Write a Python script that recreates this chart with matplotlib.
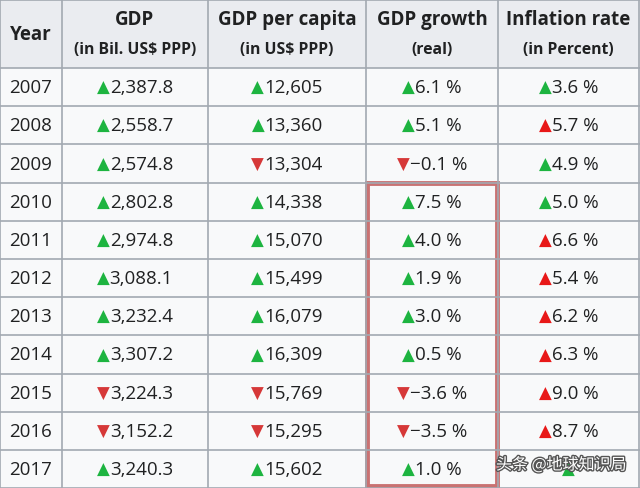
import matplotlib.pyplot as plt
from matplotlib.patches import Rectangle
from matplotlib.offsetbox import TextArea, HPacker, AnnotationBbox
import matplotlib.patheffects as pe

plt.rcParams['font.family'] = ['Open Sans', 'DejaVu Sans']

# 数据
years = ['2007', '2008', '2009', '2010', '2011', '2012', '2013', '2014', '2015', '2016', '2017']
gdp = ['2,387.8', '2,558.7', '2,574.8', '2,802.8', '2,974.8', '3,088.1', '3,232.4',
       '3,307.2', '3,224.3', '3,152.2', '3,240.3']
gdp_up = [1, 1, 1, 1, 1, 1, 1, 1, 0, 0, 1]
gdp_pc = ['12,605', '13,360', '13,304', '14,338', '15,070', '15,499', '16,079',
          '16,309', '15,769', '15,295', '15,602']
gdp_pc_up = [1, 1, 0, 1, 1, 1, 1, 1, 0, 0, 1]
growth = ['6.1 %', '5.1 %', '−0.1 %', '7.5 %', '4.0 %', '1.9 %', '3.0 %',
          '0.5 %', '−3.6 %', '−3.5 %', '1.0 %']
growth_up = [1, 1, 0, 1, 1, 1, 1, 1, 0, 0, 1]
inflation = ['3.6 %', '5.7 %', '4.9 %', '5.0 %', '6.6 %', '5.4 %', '6.2 %',
             '6.3 %', '9.0 %', '8.7 %', '']
# 1 = 绿色上升, 2 = 红色上升 (通胀变高)
inflation_mark = [1, 2, 1, 1, 2, 2, 2, 2, 2, 2, 1]

headers = [('Year', ''), ('GDP', '(in Bil. US$ PPP)'), ('GDP per capita', '(in US$ PPP)'),
           ('GDP growth', '(real)'), ('Inflation rate', '(in Percent)')]

col_edges = [0, 62, 208, 366, 498, 639]
header_h = 69
row_h = 38.2

green = '#1db440'
red_down = '#d63838'
red_up = '#e81818'
grid = '#a2a9b1'

fig = plt.figure(figsize=(6.4, 4.89), dpi=100)
ax = fig.add_axes([0, 0, 1, 1])
ax.set_xlim(0, 640)
ax.set_ylim(489, 0)
ax.axis('off')

# 表头背景
ax.add_patch(Rectangle((0, 0), 640, header_h, facecolor='#eaecf0', edgecolor='none'))
ax.add_patch(Rectangle((0, header_h), 640, 489 - header_h, facecolor='#f8f9fa', edgecolor='none'))

for x in col_edges:
    ax.plot([x, x], [0, 489], color=grid, lw=1.2)
ax.plot([0, 640], [0.5, 0.5], color=grid, lw=1.2)
for i in range(len(years) + 1):
    y = header_h + i * row_h
    ax.plot([0, 640], [y, y], color=grid, lw=1.2)

for j, (h1, h2) in enumerate(headers):
    xc = (col_edges[j] + col_edges[j + 1]) / 2
    if h2:
        ax.text(xc, 20, h1, ha='center', va='center', fontsize=13.5, fontweight='bold', color='#202122')
        ax.text(xc, 50, h2, ha='center', va='center', fontsize=11.3, fontweight='bold', color='#202122')
    else:
        ax.text(xc, header_h / 2, h1, ha='center', va='center', fontsize=13.5, fontweight='bold',
                color='#202122')


def cell(j, i, mark, value):
    xc = (col_edges[j] + col_edges[j + 1]) / 2
    yc = header_h + (i + 0.5) * row_h
    if mark == 1:
        tri, c = '▲', green
    elif mark == 2:
        tri, c = '▲', red_up
    else:
        tri, c = '▼', red_down
    parts = [TextArea(tri, textprops=dict(color=c, fontsize=12, family=['DejaVu Sans']))]
    if value:
        parts.append(TextArea(value, textprops=dict(color='#202122', fontsize=13.5)))
    box = HPacker(children=parts, sep=0, pad=0, align='baseline')
    ab = AnnotationBbox(box, (xc, yc), xycoords='data', frameon=False, box_alignment=(0.5, 0.5), pad=0)
    ax.add_artist(ab)


for i, yr in enumerate(years):
    yc = header_h + (i + 0.5) * row_h
    ax.text(31, yc, yr, ha='center', va='center', fontsize=13.5, color='#202122')
    cell(1, i, gdp_up[i], gdp[i])
    cell(2, i, gdp_pc_up[i], gdp_pc[i])
    cell(3, i, growth_up[i], growth[i])
    cell(4, i, inflation_mark[i], inflation[i])

# 红框
ax.add_patch(Rectangle((367, 184), 130, 303, facecolor='none', edgecolor='#c97272', lw=3.5))

# 水印
ax.text(496, 466, '头条 @地球知识局', ha='left', va='center', fontsize=11.5,
        family=['Noto Sans CJK SC', 'DejaVu Sans'], color='white',
        path_effects=[pe.withStroke(linewidth=2, foreground='#555555')])

fig.savefig('out.png', dpi=100)
